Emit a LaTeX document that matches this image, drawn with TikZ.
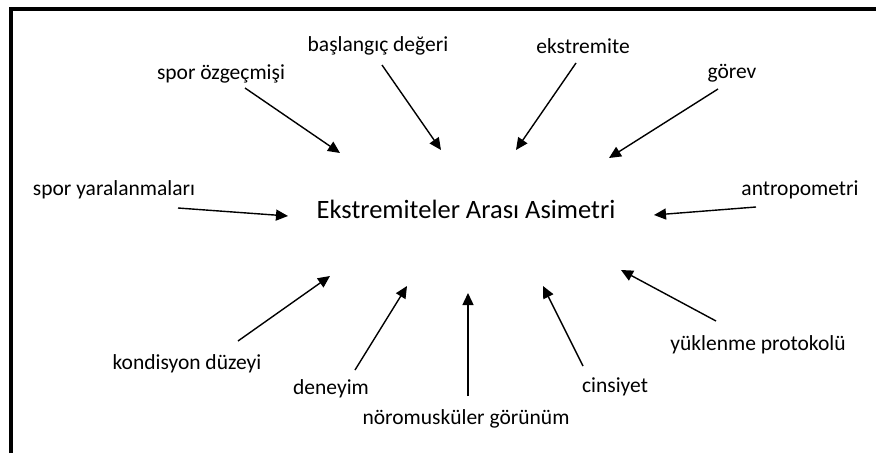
\documentclass[tikz,border=0pt]{standalone}
\usepackage{fontspec}
\setmainfont{Carlito}
\usepackage{tikz}
\usetikzlibrary{arrows.meta}
\tikzset{
    factor-label/.style = {inner sep=0pt, font=\fontsize{21.5}{24}\selectfont},
    main-label/.style = {inner sep=0pt, font=\fontsize{26.5}{30}\selectfont},
    factor-arrow/.style = {line width=1.4pt, -{Triangle[length=12pt, width=11pt]}},
}

\begin{document}
\begin{tikzpicture}[x=1pt, y=-1pt]
\useasboundingbox (0,0) rectangle (876,453);
\draw[line width=3.2pt] (11,453) |- (876,9);

\node [main-label] (main) at (466,209) {Ekstremiteler Arası Asimetri};

\node [factor-label] (history) at (221,74) {spor özgeçmişi};
\node [factor-label] (baseline) at (378,46) {başlangıç değeri};
\node [factor-label] (limb) at (583,46) {ekstremite};
\node [factor-label] (task) at (732,73) {görev};
\node [factor-label] (injury) at (114,190) {spor yaralanmaları};
\node [factor-label] (anthro) at (800,190) {antropometri};
\node [factor-label] (fitness) at (187,364) {kondisyon düzeyi};
\node [factor-label] (experience) at (331,389) {deneyim};
\node [factor-label] (neuro) at (466,419) {nöromusküler görünüm};
\node [factor-label] (sex) at (615,387) {cinsiyet};
\node [factor-label] (protocol) at (758,345) {yüklenme protokolü};

\coordinate (history-tail) at (245,88);   \coordinate (history-tip) at (340,153);
\coordinate (baseline-tail) at (382,65);  \coordinate (baseline-tip) at (441,150);
\coordinate (limb-tail) at (576,63);      \coordinate (limb-tip) at (516,150);
\coordinate (task-tail) at (718,89);      \coordinate (task-tip) at (609,158);
\coordinate (injury-tail) at (178,208);   \coordinate (injury-tip) at (288,216);
\coordinate (anthro-tail) at (756,207);   \coordinate (anthro-tip) at (654,215);
\coordinate (fitness-tail) at (238,341);  \coordinate (fitness-tip) at (330,276);
\coordinate (experience-tail) at (355,370); \coordinate (experience-tip) at (407,286);
\coordinate (neuro-tail) at (468,396);    \coordinate (neuro-tip) at (468,293);
\coordinate (sex-tail) at (583,366);      \coordinate (sex-tip) at (543,286);
\coordinate (protocol-tail) at (716,321); \coordinate (protocol-tip) at (621,270);

\draw [factor-arrow] (history-tail) -- (history-tip);
\draw [factor-arrow] (baseline-tail) -- (baseline-tip);
\draw [factor-arrow] (limb-tail) -- (limb-tip);
\draw [factor-arrow] (task-tail) -- (task-tip);
\draw [factor-arrow] (injury-tail) -- (injury-tip);
\draw [factor-arrow] (anthro-tail) -- (anthro-tip);
\draw [factor-arrow] (fitness-tail) -- (fitness-tip);
\draw [factor-arrow] (experience-tail) -- (experience-tip);
\draw [factor-arrow] (neuro-tail) -- (neuro-tip);
\draw [factor-arrow] (sex-tail) -- (sex-tip);
\draw [factor-arrow] (protocol-tail) -- (protocol-tip);
\end{tikzpicture}
\end{document}
